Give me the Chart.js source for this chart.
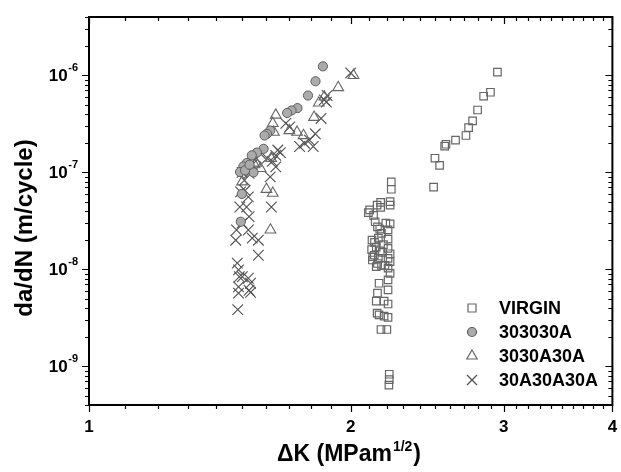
<!DOCTYPE html>
<html>
<head>
<meta charset="utf-8">
<script src="https://cdn.jsdelivr.net/npm/chart.js@4.4.0/dist/chart.umd.min.js"></script>
<style>
  body { margin: 0; background: #fff; }
  #wrap { width: 621px; height: 472px; }
</style>
</head>
<body>
<div id="wrap"><canvas id="fcgChart" width="621" height="472"></canvas></div>
<script>
const seriesNames = ["VIRGIN", "303030A", "3030A30A", "30A30A30A"];

// [dK, da/dN]
const virgin = [
  [2.95,1.08e-6],[2.896,6.7e-7],[2.844,6.1e-7],[2.799,4.4e-7],[2.762,3.4e-7],[2.733,2.9e-7],
  [2.714,2.4e-7],[2.64,2.15e-7],[2.574,1.95e-7],[2.565,1.87e-7],[2.50,1.4e-7],[2.531,1.18e-7],
  [2.491,7.05e-8],
  [2.227,8.0e-8],[2.227,6.7e-8],[2.220,5.0e-8],[2.220,4.6e-8],[2.165,4.9e-8],[2.165,4.35e-8],
  [2.103,4.1e-8],[2.096,3.85e-8],[2.125,3.6e-8],[2.134,3.1e-8],[2.147,2.75e-8],[2.220,2.95e-8],
  [2.208,2.55e-8],[2.170,2.35e-8],[2.116,2.0e-8],[2.152,2.1e-8],[2.208,2.05e-8],[2.181,1.8e-8],
  [2.140,1.7e-8],[2.114,1.6e-8],[2.163,1.55e-8],[2.208,1.65e-8],[2.220,1.45e-8],[2.129,1.4e-8],
  [2.152,1.3e-8],[2.208,1.3e-8],[2.118,1.25e-8],[2.147,1.15e-8],[2.220,1.2e-8],[2.170,1.1e-8],
  [2.140,1.07e-8],[2.208,1.03e-8],[2.220,9.1e-9],[2.208,7.8e-9],[2.156,7.2e-9],[2.147,5.7e-9],
  [2.208,6.15e-9],[2.140,4.7e-9],[2.185,4.7e-9],[2.208,4.4e-9],[2.145,3.55e-9],[2.156,3.4e-9],
  [2.208,3.2e-9],[2.185,3.3e-9],[2.167,2.4e-9],[2.201,2.4e-9],[2.215,8.3e-10],[2.215,7.3e-10],
  [2.213,6.4e-10],[2.13,1.9e-8],[2.175,1.5e-8],[2.19,1.1e-8],[2.12,1.35e-8],[2.16,2.6e-8],
  [2.195,3.0e-8],[2.145,4.6e-8]
];
const s303030A = [
  [1.858,1.24e-6],[1.822,8.7e-7],[1.786,6.2e-7],[1.737,4.6e-7],[1.710,4.35e-7],[1.690,4.1e-7],
  [1.616,2.7e-7],[1.602,2.5e-7],[1.592,2.4e-7],[1.588,1.75e-7],[1.560,1.6e-7],[1.539,1.5e-7],
  [1.519,1.25e-7],[1.505,1.15e-7],[1.492,1.01e-7],[1.546,1.0e-7],[1.512,1.05e-7],[1.499,6.0e-8],
  [1.495,3.1e-8],[1.530,1.2e-7]
];
const s3030A30A = [
  [2.015,1.0e-6],[1.935,7.5e-7],[1.865,6.0e-7],[1.838,5.2e-7],[1.815,3.7e-7],[1.765,2.4e-7],
  [1.735,2.6e-7],[1.640,3.9e-7],[1.627,3.2e-7],[1.632,2.6e-7],[1.700,2.7e-7],[1.557,1.25e-7],
  [1.575,1.1e-7],[1.600,6.7e-8],[1.627,6.1e-8],[1.617,2.55e-8],[1.500,8.0e-8],[1.550,1.2e-7],
  [1.620,1.4e-7],[1.51,1.1e-7]
];
const s30A30A30A = [
  [2.000,1.06e-6],[1.879,6.2e-7],[1.865,5.6e-7],[1.875,5.3e-7],[1.849,3.6e-7],[1.821,2.5e-7],
  [1.811,1.85e-7],[1.793,2.15e-7],[1.747,1.85e-7],[1.77,2.0e-7],[1.702,2.95e-7],[1.684,3.2e-7],
  [1.649,1.7e-7],[1.640,1.5e-7],[1.625,1.3e-7],[1.603,1.4e-7],[1.574,1.56e-7],[1.557,1.4e-7],
  [1.541,1.2e-7],[1.528,9.8e-8],[1.509,8.3e-8],[1.494,6.3e-8],[1.525,5.6e-8],[1.491,4.4e-8],
  [1.518,4.4e-8],[1.528,3.5e-8],[1.525,2.55e-8],[1.478,2.55e-8],[1.475,2.0e-8],[1.541,2.1e-8],
  [1.566,2.0e-8],[1.566,1.4e-8],[1.621,4.4e-8],[1.616,9.0e-8],[1.640,1.14e-7],[1.481,1.16e-8],
  [1.486,9.9e-9],[1.489,8.4e-9],[1.501,8.4e-9],[1.525,8.1e-9],[1.534,7.2e-9],[1.486,6.6e-9],
  [1.528,6.1e-9],[1.486,5.7e-9],[1.534,5.8e-9],[1.483,3.85e-9],[1.50,3.0e-8],[1.512,6.5e-8],
  [1.50,1.0e-7],[1.66,1.6e-7]
];

const xTickLabels = [1, 2, 3, 4];
const yTickPowers = [-9, -8, -7, -6];
const xRange = [1, 4];
const yRange = [4e-10, 4e-6];

const FONT = "'Liberation Sans', Arial, sans-serif";

function toXY(arr) {
  return arr.map(p => ({ x: p[0], y: p[1] }));
}

// frame, ticks, labels, titles and legend
const decorations = {
  id: 'decorations',
  afterDraw(chart) {
    const ctx = chart.ctx;
    const a = chart.chartArea;
    const xs = chart.scales.x, ys = chart.scales.y;
    ctx.save();
    ctx.strokeStyle = '#000';
    ctx.fillStyle = '#000';

    ctx.lineWidth = 1.2;
    ctx.beginPath();
    for (let i = 10; i <= 40; i++) {
      const px = Math.round(xs.getPixelForValue(i / 10)) + 0.5;
      const len = i % 10 === 0 ? 7 : 4;
      ctx.moveTo(px, a.bottom); ctx.lineTo(px, a.bottom + len);
      ctx.moveTo(px, a.top); ctx.lineTo(px, a.top + len);
    }
    for (let e = -10; e <= -6; e++) {
      for (let m = 1; m <= 9; m++) {
        const v = m * Math.pow(10, e);
        if (v < yRange[0] * 0.999 || v > yRange[1] * 1.001) continue;
        const py = Math.round(ys.getPixelForValue(v)) + 0.5;
        const len = m === 1 ? 7 : 4;
        ctx.moveTo(a.left, py); ctx.lineTo(a.left - len, py);
        ctx.moveTo(a.right, py); ctx.lineTo(a.right - len, py);
      }
    }
    ctx.stroke();

    ctx.lineWidth = 2;
    ctx.strokeRect(a.left, a.top, a.right - a.left, a.bottom - a.top);

    // x tick labels
    ctx.font = 'bold 17px ' + FONT;
    ctx.textAlign = 'center';
    ctx.textBaseline = 'middle';
    xTickLabels.forEach(v => {
      ctx.fillText(String(v), xs.getPixelForValue(v), a.bottom + 22);
    });

    // y tick labels 10^n
    yTickPowers.forEach(p => {
      const py = ys.getPixelForValue(Math.pow(10, p));
      const sup = String(p);
      ctx.font = 'bold 11px ' + FONT;
      const supW = ctx.measureText(sup).width;
      const right = a.left - 11;
      ctx.textAlign = 'left';
      ctx.fillText(sup, right - supW, py - 7);
      ctx.font = 'bold 17px ' + FONT;
      ctx.textAlign = 'right';
      ctx.fillText('10', right - supW - 0.5, py + 1);
    });

    // y title
    ctx.save();
    ctx.translate(25, 228);
    ctx.rotate(-Math.PI / 2);
    ctx.font = 'bold 24px ' + FONT;
    ctx.textAlign = 'center';
    ctx.fillText('da/dN (m/cycle)', 0, 0);
    ctx.restore();

    // x title with superscript
    const p1 = '\u0394K (MPam', p2 = '1/2', p3 = ')';
    ctx.font = 'bold 23px ' + FONT;
    const w1 = ctx.measureText(p1).width, w3 = ctx.measureText(p3).width;
    ctx.font = 'bold 14px ' + FONT;
    const w2 = ctx.measureText(p2).width;
    let tx = 348 - (w1 + w2 + w3) / 2;
    const ty = 455;
    ctx.textAlign = 'left';
    ctx.font = 'bold 23px ' + FONT;
    ctx.fillText(p1, tx, ty);
    ctx.font = 'bold 14px ' + FONT;
    ctx.fillText(p2, tx + w1 + 1, ty - 8);
    ctx.font = 'bold 23px ' + FONT;
    ctx.fillText(p3, tx + w1 + w2 + 2, ty);

    // legend
    const lx = 472, rows = [308, 332, 356, 380];
    chart.data.datasets.forEach((ds, i) => {
      const y = rows[i];
      ctx.strokeStyle = ds.pointBorderColor;
      ctx.fillStyle = ds.pointBackgroundColor;
      ctx.lineWidth = 1.2;
      ctx.beginPath();
      if (ds.pointStyle === 'rect') {
        ctx.rect(lx - 4, y - 4, 8, 8);
      } else if (ds.pointStyle === 'circle') {
        ctx.arc(lx, y, 4.5, 0, Math.PI * 2);
      } else if (ds.pointStyle === 'triangle') {
        ctx.moveTo(lx, y - 6); ctx.lineTo(lx + 5.2, y + 3); ctx.lineTo(lx - 5.2, y + 3); ctx.closePath();
      } else {
        ctx.moveTo(lx - 5, y - 5); ctx.lineTo(lx + 5, y + 5);
        ctx.moveTo(lx + 5, y - 5); ctx.lineTo(lx - 5, y + 5);
      }
      ctx.fill();
      ctx.stroke();
      ctx.fillStyle = '#000';
      ctx.font = 'bold 18px ' + FONT;
      ctx.textAlign = 'left';
      ctx.textBaseline = 'middle';
      ctx.fillText(ds.label, 499, y + 1);
    });
    ctx.restore();
  }
};

new Chart(document.getElementById('fcgChart'), {
  type: 'scatter',
  data: {
    datasets: [
      { label: seriesNames[0], data: toXY(virgin), pointStyle: 'rect', pointRadius: 5.3,
        pointBorderColor: '#666666', pointBackgroundColor: 'rgba(255,255,255,0)', pointBorderWidth: 1.2 },
      { label: seriesNames[1], data: toXY(s303030A), pointStyle: 'circle', pointRadius: 4.6,
        pointBorderColor: '#5e5e5e', pointBackgroundColor: '#ababab', pointBorderWidth: 1 },
      { label: seriesNames[2], data: toXY(s3030A30A), pointStyle: 'triangle', pointRadius: 6.2,
        pointBorderColor: '#666666', pointBackgroundColor: 'rgba(255,255,255,0)', pointBorderWidth: 1.1 },
      { label: seriesNames[3], data: toXY(s30A30A30A), pointStyle: 'crossRot', pointRadius: 7.5,
        pointBorderColor: '#505050', pointBackgroundColor: 'rgba(0,0,0,0)', pointBorderWidth: 1.1 }
    ]
  },
  options: {
    responsive: false,
    animation: false,
    events: [],
    layout: { padding: { top: 17, right: 8, left: 0, bottom: 0 } },
    plugins: { legend: { display: false }, tooltip: { enabled: false } },
    scales: {
      x: {
        type: 'logarithmic', min: xRange[0], max: xRange[1],
        ticks: { display: false }, grid: { display: false }, border: { display: false },
        afterFit(s) { s.height = 67; }
      },
      y: {
        type: 'logarithmic', min: yRange[0], max: yRange[1],
        ticks: { display: false }, grid: { display: false }, border: { display: false },
        afterFit(s) { s.width = 89; }
      }
    }
  },
  plugins: [decorations]
});
</script>
</body>
</html>
